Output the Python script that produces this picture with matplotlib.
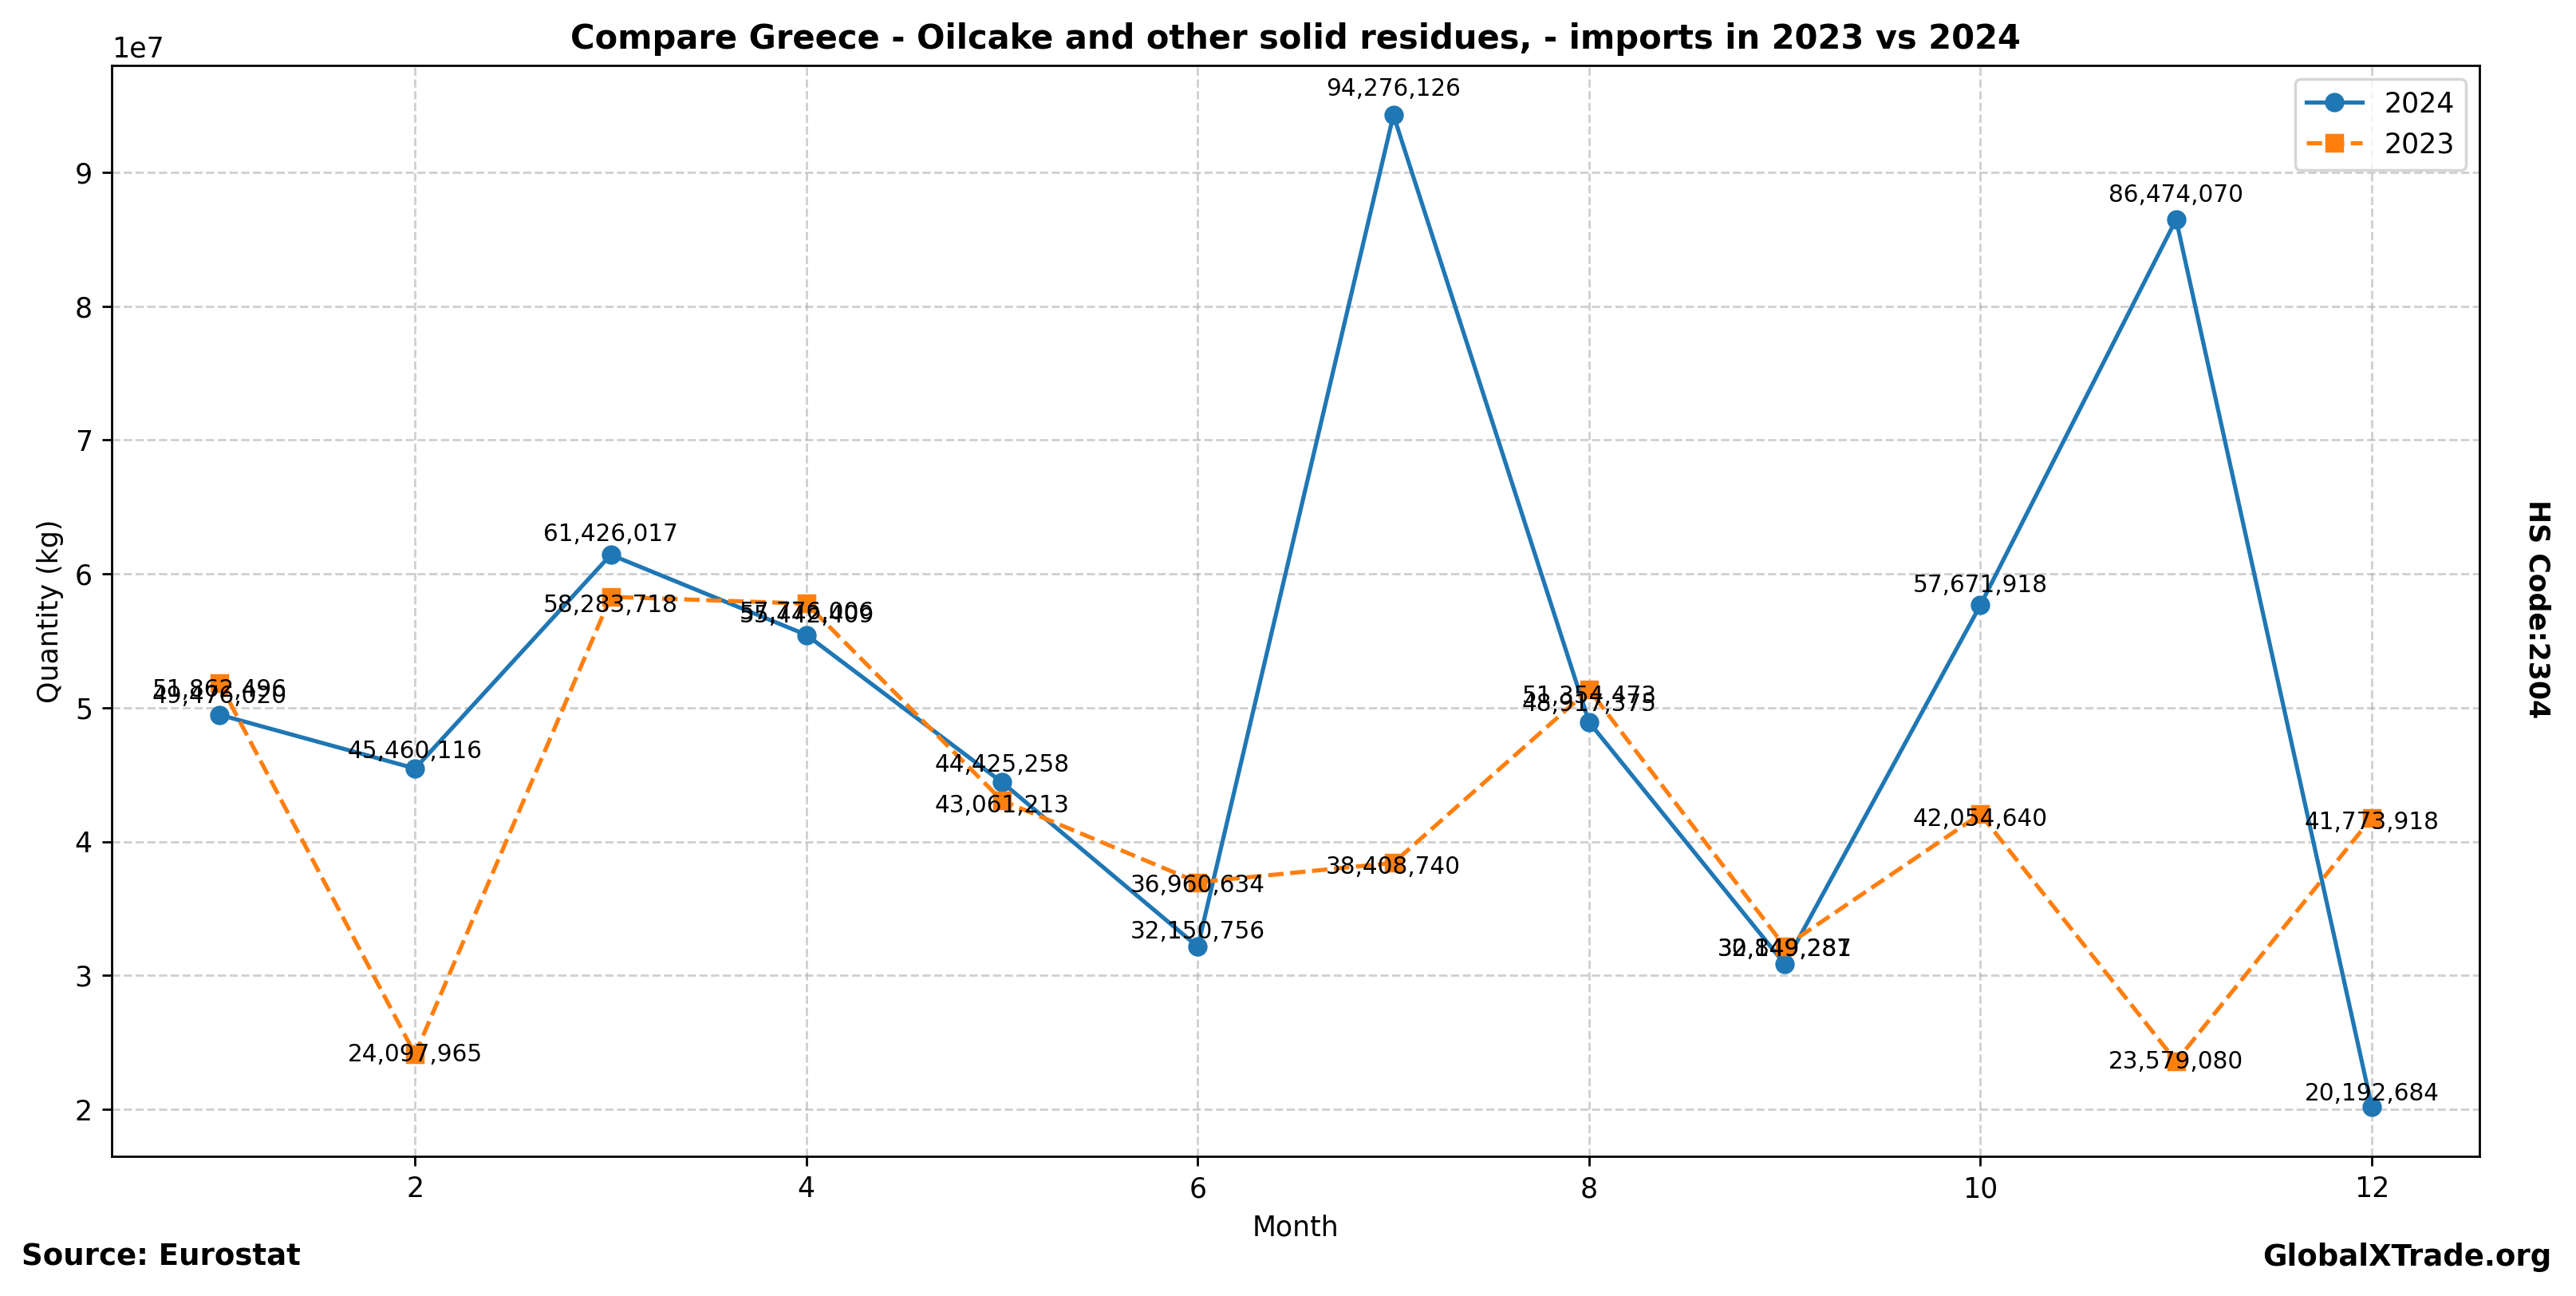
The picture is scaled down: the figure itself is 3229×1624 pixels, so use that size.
import matplotlib
matplotlib.use("Agg")
import matplotlib.pyplot as plt

months = [1, 2, 3, 4, 5, 6, 7, 8, 9, 10, 11, 12]
qty_2024 = [49476020, 45460116, 61426017, 55442409, 44425258, 32150756,
            94276126, 48917375, 30849281, 57671918, 86474070, 20192684]
qty_2023 = [51862496, 24097965, 58283718, 57776006, 43061213, 36960634,
            38408740, 51354473, 32149287, 42054640, 23579080, 41773918]

fig = plt.figure(figsize=(3229 / 250, 1624 / 250), dpi=250)
ax = fig.add_axes([0.0434, 0.1078, 0.9191, 0.8417])

ax.plot(months, qty_2024, marker='o', linestyle='-', color='#1f77b4', label='2024')
ax.plot(months, qty_2023, marker='s', linestyle='--', color='#ff7f0e', label='2023')

for x, y in zip(months, qty_2024):
    ax.annotate(f"{y:,}", (x, y * 1.013), textcoords='offset points', xytext=(0, 1),
                ha='center', fontsize=8.5)
for x, y in zip(months, qty_2023):
    ax.annotate(f"{y:,}", (x, y * 0.982), textcoords='offset points', xytext=(0, -0.5),
                ha='center', fontsize=8.5)

ax.set_title('Compare Greece - Oilcake and other solid residues, - imports in 2023 vs 2024',
             fontweight='bold')
ax.set_xlabel('Month')
ax.set_ylabel('Quantity (kg)')
ax.grid(True, linestyle='--', alpha=0.6)
ax.legend(loc='upper right')

fig.text(0.0085, 0.030, 'Source: Eurostat', fontweight='bold', fontsize=10.7, ha='left', va='center')
fig.text(0.9905, 0.030, 'GlobalXTrade.org', fontweight='bold', fontsize=10.7, ha='right', va='center')
fig.text(0.985, 0.53, 'HS Code:2304', fontweight='bold', fontsize=10, rotation=270,
         ha='center', va='center')

fig.savefig('out.png', dpi=250)
